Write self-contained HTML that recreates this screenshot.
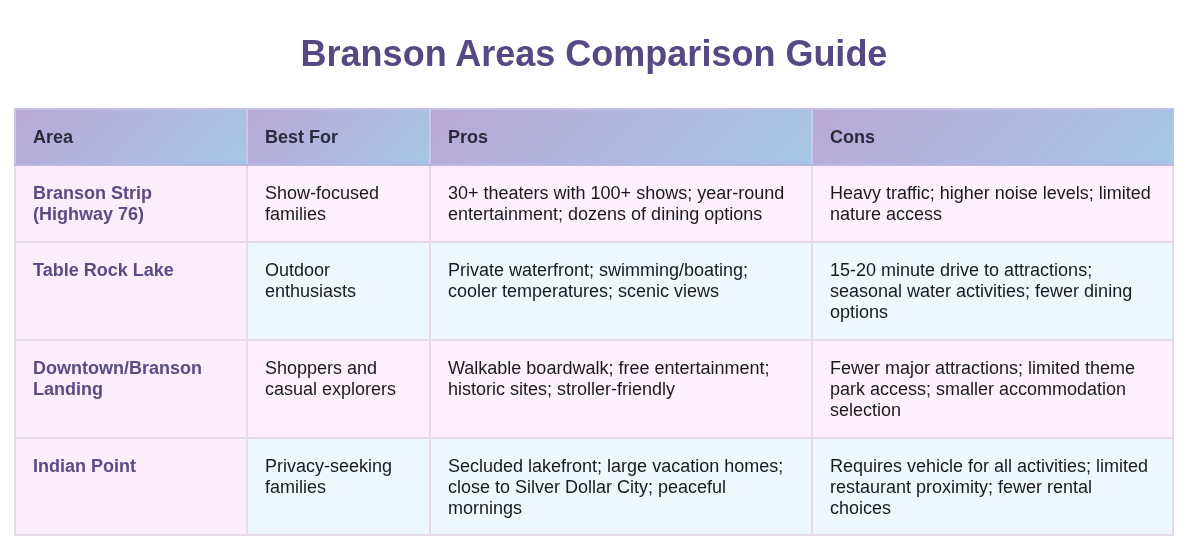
<!DOCTYPE html>
<html lang="en">
<head>
<meta charset="utf-8">
<title>Branson Areas Comparison Guide</title>
<style>
html,body{margin:0;padding:0;background:#fff;}
body{width:1200px;height:555px;overflow:hidden;position:relative;font-family:"Liberation Sans",Arial,sans-serif;}
h1{position:absolute;left:0;top:32px;width:1188px;margin:0;text-align:center;font-size:36px;line-height:44px;font-weight:bold;color:#564882;}
table{position:absolute;left:14px;top:108px;width:1158px;border-collapse:collapse;table-layout:fixed;font-size:18px;line-height:21px;color:#1a1a1a;}
th,td{border:2px solid #e5dae9;vertical-align:top;text-align:left;padding:17px 17px 15px;}
th{height:22px;padding:17px 17px 15px;font-weight:bold;color:#2a2a3a;background:linear-gradient(135deg,#b9a8d6 0%,#a6c6e6 100%);border-color:#c6c0e4 #cbc6ec #b9b5dd #cbc6ec;}
th:first-child{border-left-color:#cbc6e6;}
th:last-child{border-right-color:#b4c3e8;}
td.a{font-weight:bold;color:#594b83;background:#fdecf9;}
tr.p td{background:#fdf0fc;}
tr.b td{background:#eef7fe;}
tr.p td.a,tr.b td.a{background:#fdecf9;}
</style>
</head>
<body>
<h1>Branson Areas Comparison Guide</h1>
<table>
<colgroup><col style="width:232px"><col style="width:183px"><col style="width:382px"><col style="width:361px"></colgroup>
<thead><tr><th>Area</th><th>Best For</th><th>Pros</th><th>Cons</th></tr></thead>
<tbody>
<tr class="p" style="height:77px"><td class="a">Branson Strip<br>(Highway 76)</td><td>Show-focused<br>families</td><td>30+ theaters with 100+ shows; year-round<br>entertainment; dozens of dining options</td><td>Heavy traffic; higher noise levels; limited<br>nature access</td></tr>
<tr class="b" style="height:98px"><td class="a">Table Rock Lake</td><td>Outdoor<br>enthusiasts</td><td>Private waterfront; swimming/boating;<br>cooler temperatures; scenic views</td><td>15-20 minute drive to attractions;<br>seasonal water activities; fewer dining<br>options</td></tr>
<tr class="p" style="height:98px"><td class="a">Downtown/Branson<br>Landing</td><td>Shoppers and<br>casual explorers</td><td>Walkable boardwalk; free entertainment;<br>historic sites; stroller-friendly</td><td>Fewer major attractions; limited theme<br>park access; smaller accommodation<br>selection</td></tr>
<tr class="b" style="height:97px"><td class="a">Indian Point</td><td>Privacy-seeking<br>families</td><td>Secluded lakefront; large vacation homes;<br>close to Silver Dollar City; peaceful<br>mornings</td><td>Requires vehicle for all activities; limited<br>restaurant proximity; fewer rental<br>choices</td></tr>
</tbody>
</table>
</body>
</html>
